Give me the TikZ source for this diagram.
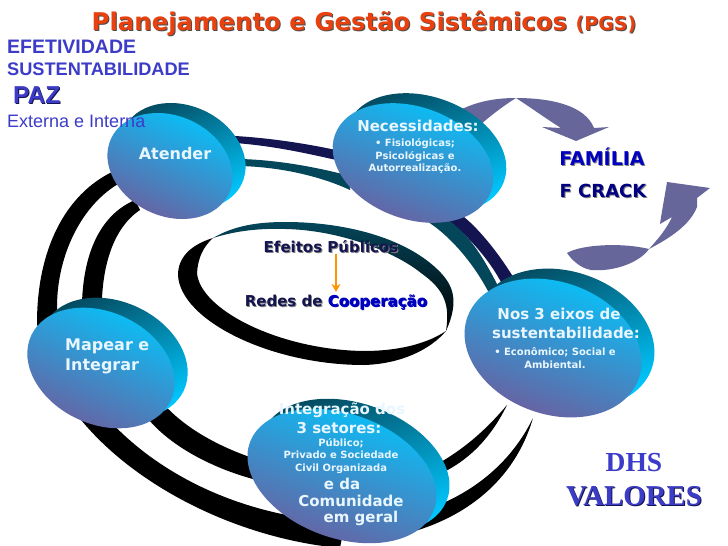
\documentclass[tikz,border=0pt]{standalone}
\usepackage{fontspec}
\setmainfont{DejaVu Sans}
\newfontfamily\arialfont{Liberation Sans}
\newfontfamily\timesfont{Liberation Serif}
\usetikzlibrary{shapes.geometric,arrows.meta}
\definecolor{anil}{HTML}{3C3CC8}
\definecolor{marinho}{HTML}{141450}
\definecolor{petroleo}{HTML}{04465A}
\definecolor{seta}{HTML}{66669A}
\definecolor{branco}{HTML}{E8F6FF}
\definecolor{topo}{HTML}{00C8FF}
\definecolor{meio}{HTML}{2E9BD0}
\definecolor{fundo}{HTML}{6A60A0}
\definecolor{ladomeio}{HTML}{0A84A0}
\definecolor{laranja}{HTML}{E8400F}
\newcommand{\sombra}[2]{\rlap{\kern1pt\raisebox{-1pt}{\textcolor{#1}{#2}}}#2}
\tikzset{
  x=1pt,y=-1pt,
  frente/.style={ellipse,inner sep=0pt,top color=topo,middle color=meio,bottom color=fundo},
  lado/.style={ellipse,inner sep=0pt,top color=petroleo,middle color=ladomeio,bottom color=topo},
  texto/.style={inner sep=0pt,text=branco,font=\bfseries\fontsize{15}{20}\selectfont,align=center},
  miudo/.style={inner sep=0pt,text=branco,font=\bfseries\fontsize{10}{12.5}\selectfont,align=center},
}
\begin{document}
\begin{tikzpicture}
\useasboundingbox (0,0) rectangle (728,546);
\fill[white] (0,0) rectangle (728,546);
% aneis externos
\fill[black] (112,172) .. controls (65,195) and (37,250) .. (37,323) .. controls (50,440) and (200,535) .. (340,548) -- (345,522) .. controls (190,515) and (75,420) .. (58,323) .. controls (52,270) and (75,210) .. (118,184) -- cycle;
\fill[black] (135,200) .. controls (100,215) and (80,255) .. (82,320) -- (102,320) .. controls (100,275) and (110,230) .. (140,210) -- cycle;
\fill[black] (160,400) .. controls (185,430) and (225,450) .. (265,462) -- (265,482) .. controls (220,472) and (170,448) .. (145,415) -- cycle;
\fill[black] (400,535) .. controls (465,520) and (515,480) .. (533,418) .. controls (510,465) and (470,495) .. (425,510) -- cycle;
\fill[black] (430,478) .. controls (465,465) and (490,440) .. (507,405) .. controls (480,437) and (455,455) .. (430,468) -- cycle;
% aneis de cima
\fill[marinho] (235,136) .. controls (270,138) and (310,144) .. (345,152) -- (345,162) .. controls (310,154) and (275,146) .. (235,143) -- cycle;
\fill[petroleo] (240,159) .. controls (280,160) and (320,168) .. (350,176) -- (350,190) .. controls (320,176) and (280,167) .. (240,166) -- cycle;
\fill[marinho] (448,220) .. controls (470,238) and (492,262) .. (505,290) -- (515,280) .. controls (500,255) and (480,230) .. (464,217) -- cycle;
\fill[petroleo] (425,220) .. controls (450,235) and (475,265) .. (490,295) -- (500,290) .. controls (485,260) and (470,235) .. (449,221) -- cycle;
% setas
\fill[seta] (460,110) .. controls (480,100) and (500,98) .. (516,98) .. controls (505,105) and (495,112) .. (480,125) -- cycle;
\fill[seta] (516,98) .. controls (550,98) and (585,105) .. (594,128) -- (609,127) -- (576,141) -- (542,127) -- (561,128) .. controls (545,118) and (530,107) .. (516,98) -- cycle;
\fill[seta] (567,253) .. controls (580,245) and (620,242) .. (649,249) .. controls (640,262) and (615,272) .. (591,270) .. controls (580,268) and (572,260) .. (567,253) -- cycle;
\fill[seta] (649,249) .. controls (655,242) and (665,232) .. (672,217) -- (660,224) .. controls (662,210) and (665,195) .. (667,182) -- (710,188) -- (697,198) -- (697,207) .. controls (690,225) and (670,238) .. (649,249) -- cycle;
% anel central
\fill[black] (213,238) .. controls (190,245) and (178,258) .. (178,275) .. controls (180,320) and (270,365) .. (364,365) .. controls (400,364) and (430,350) .. (446,331) .. controls (425,345) and (395,351) .. (364,351) .. controls (280,350) and (200,310) .. (197,273) .. controls (198,258) and (203,247) .. (213,238) -- cycle;
\shade[top color=petroleo,middle color=ladomeio,bottom color=black] (213,238) .. controls (235,225) and (260,222) .. (285,222) .. controls (350,222) and (410,240) .. (441,273) .. controls (452,285) and (460,300) .. (446,331) .. controls (450,305) and (445,290) .. (421,273) .. controls (395,252) and (340,230) .. (285,229) .. controls (255,228) and (232,232) .. (213,238) -- cycle;
% discos
\foreach \nome/\x/\y/\a/\b/\t in {atender/170/166/65/50/25,necessidades/413/163/83/56/20,mapear/101/368/77/56/25,integracao/342/476/98/62/20,eixos/553/348/91/66/20}{
  \node[lado,minimum width=2*\a,minimum height=2*\b,rotate=-\t,shading angle=\t] (\nome lado) at (\x+13,\y-10) {};
  \node[frente,minimum width=2*\a,minimum height=2*\b,rotate=-\t,shading angle=-\t] (\nome) at (\x,\y) {};
}
% textos
\node[inner sep=0pt,font=\bfseries\fontsize{24.4}{28}\selectfont,text=laranja] (titulo) at (364,24) {\sombra{black!70}{Planejamento e Gestão Sistêmicos \fontsize{19}{24}\selectfont(PGS)}};
\node[inner sep=0pt,anchor=west,text=anil,font=\arialfont\bfseries\fontsize{19.5}{22}\selectfont] (efetividade) at (7,47) {EFETIVIDADE};
\node[inner sep=0pt,anchor=west,text=anil,font=\arialfont\bfseries\fontsize{18.2}{22}\selectfont] (sustentabilidade) at (7,69) {SUSTENTABILIDADE};
\node[inner sep=0pt,anchor=west,text=anil,font=\arialfont\bfseries\fontsize{24.5}{28}\selectfont] (paz) at (13,96) {\sombra{marinho}{PAZ}};
\node[inner sep=0pt,anchor=west,text=anil,font=\arialfont\fontsize{18}{22}\selectfont] (externa) at (7,121) {Externa e Interna};
\node[texto,font=\bfseries\fontsize{16}{20}\selectfont] (atendertexto) at (175,154) {Atender};
\node[texto] (necessidadestexto) at (418,126) {Necessidades:};
\node[miudo] (fisiologicas) at (415,156) {• Fisiológicas;\\Psicológicas e\\Autorrealização.};
\node[texto,anchor=west,align=left,font=\bfseries\fontsize{16}{20}\selectfont] (mapeartexto) at (65,356) {Mapear e\\Integrar};
\node[texto] (eixos1) at (559,314) {Nos 3 eixos de};
\node[texto] (eixos2) at (566,333) {sustentabilidade:};
\node[miudo] (eixos3) at (555,358) {• Econômico; Social e\\Ambiental.};
\node[texto] (integracao1) at (342,410) {Integração dos};
\node[texto] (integracao2) at (339,428) {3 setores:};
\node[miudo] (integracao3) at (341,456) {Público;\\Privado e Sociedade\\Civil Organizada};
\node[texto] (integracao4) at (342,484) {e da};
\node[texto] (integracao5) at (351,501) {Comunidade};
\node[texto] (integracao6) at (361,518) {em geral};
\node[inner sep=0pt,text=marinho,font=\bfseries\fontsize{15}{18}\selectfont] (efeitos) at (331,247) {\sombra{gray}{Efeitos Públicos}};
\node[inner sep=0pt,text=marinho,font=\bfseries\fontsize{15}{18}\selectfont] (redes) at (336,303) {\sombra{gray}{Redes de \textcolor{blue!75!black}{Cooperação}}};
\draw[orange!85!yellow,line width=2.5pt,-{Stealth[length=8pt,width=9pt]}] (redes.north |- efeitos.south) -- ([yshift=3pt]redes.north);
\node[inner sep=0pt,text=blue!75!black,font=\bfseries\fontsize{19}{22}\selectfont] (familia) at (602,157) {\sombra{gray}{FAMÍLIA}};
\node[inner sep=0pt,text=blue!50!black,font=\bfseries\fontsize{18}{22}\selectfont] (crack) at (603,191) {\sombra{gray}{F CRACK}};
\node[inner sep=0pt,text=anil,font=\timesfont\bfseries\fontsize{27.5}{30}\selectfont] (dhs) at (634,463) {DHS};
\node[inner sep=0pt,text=anil,font=\timesfont\bfseries\fontsize{28.8}{32}\selectfont] (valores) at (634,497) {\sombra{marinho}{VALORES}};
\end{tikzpicture}
\end{document}
